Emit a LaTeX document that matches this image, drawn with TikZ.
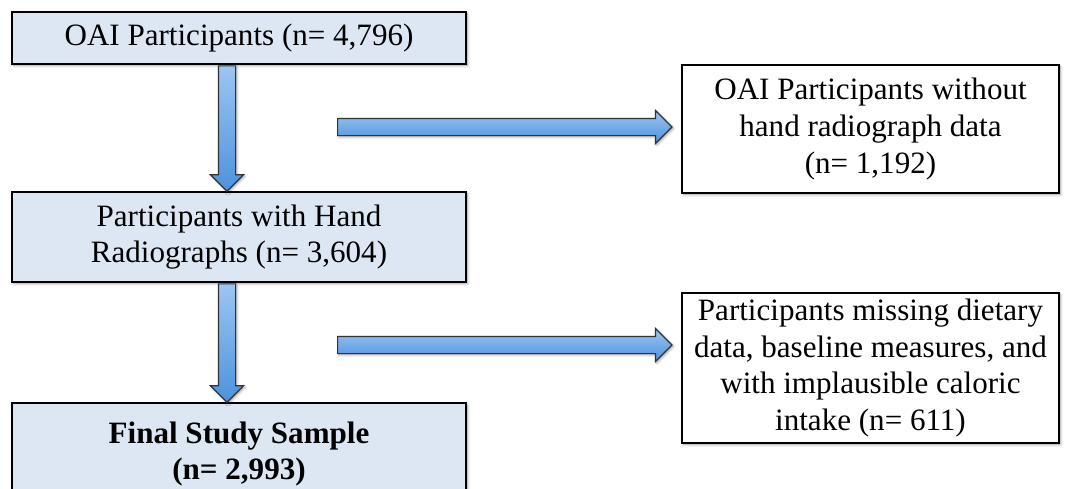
\documentclass[tikz,border=0pt]{standalone}
\usepackage{fontspec}
\setmainfont{Liberation Serif}
\usepackage{xcolor}
\usetikzlibrary{calc,shapes.arrows,shadows.blur}
\definecolor{boxfill}{HTML}{DDE7F3}
\definecolor{arrowlight}{HTML}{9CC5F2}
\definecolor{arrowdark}{HTML}{4D92DD}
\tikzset{
	stage/.style={
			draw=black, line width=1.9pt, fill=boxfill, align=center,
			font=\fontsize{23.3}{27.5}\selectfont,
			blur shadow={shadow xshift=1.2pt, shadow yshift=-1.2pt, shadow blur steps=4}
		},
	excluded/.style={stage, fill=white},
	fatarrow/.style={
			single arrow, draw=black!80, line width=0.9pt,
			top color=arrowlight, bottom color=arrowdark,
			inner xsep=0pt, inner ysep=6pt, minimum width=24pt,
			single arrow head extend=6pt, single arrow tip angle=90,
			blur shadow={shadow xshift=1pt, shadow yshift=-1pt, shadow blur steps=3}
		}
}
% thick block arrow from one point to another
\newcommand{\fatarrow}[2]{%
	\path let \p1=(#1), \p2=(#2),
	\n1={atan2(\y2-\y1,\x2-\x1)}, \n2={veclen(\x2-\x1,\y2-\y1)} in
	node[fatarrow, anchor=tail, rotate=\n1, minimum height={\n2*1pt}] at (\p1) {};}

\begin{document}
\begin{tikzpicture}[x=0.75pt, y=-0.75pt]
		\useasboundingbox (0,0) rectangle (1065,489);
		% Draw the stages
		\node[stage, minimum width=340.5pt, minimum height=39pt] (oai) at (239,38) {OAI Participants (n= 4,796)};
		\node[stage, minimum width=340.5pt, minimum height=67.5pt] (hand) at (239,237) {Participants with Hand\\Radiographs (n= 3,604)};
		\node[stage, minimum width=340.5pt, minimum height=76.5pt, font=\fontsize{23.3}{27.5}\selectfont\bfseries] (final) at (239,454) {Final Study Sample\\(n= 2,993)};
		% Draw the exclusions
		\node[excluded, minimum width=282.75pt, minimum height=96pt] (nohand) at (870.5,129) {OAI Participants without\\hand radiograph data\\(n= 1,192)};
		\node[excluded, minimum width=282.75pt, minimum height=112.5pt] (nodiet) at (870.5,368) {Participants missing dietary\\data, baseline measures, and\\with implausible caloric\\intake (n= 611)};
		\coordinate (cut1) at (337,127);
		\coordinate (cut2) at (337,345);
		% Draw the arrows
		\fatarrow{[xshift=-9pt]oai.south}{[xshift=-9pt]hand.north}
		\fatarrow{[xshift=-9pt]hand.south}{[xshift=-9pt]final.north}
		\fatarrow{cut1}{[xshift=-7pt]cut1 -| nohand.west}
		\fatarrow{cut2}{[xshift=-7pt]cut2 -| nodiet.west}
	\end{tikzpicture}
\end{document}
